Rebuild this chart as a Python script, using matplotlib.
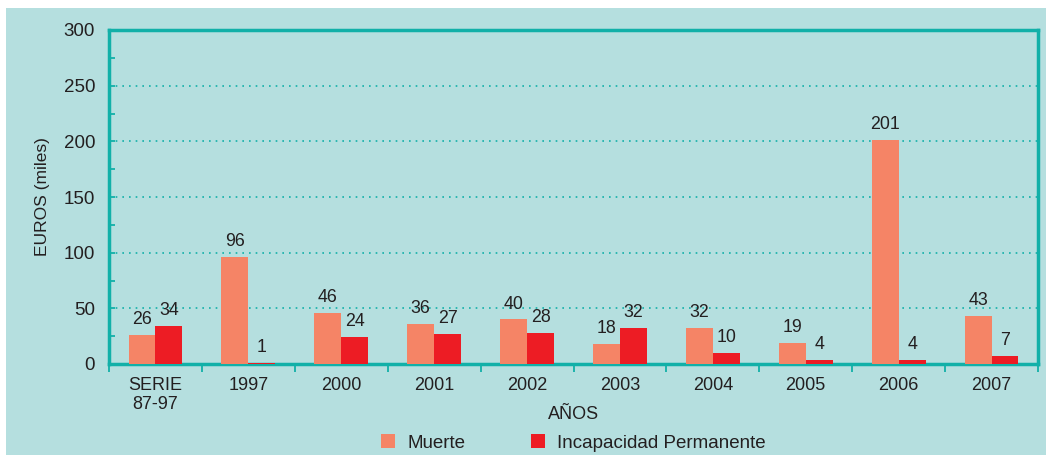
import numpy as np
import matplotlib.pyplot as plt
from matplotlib.ticker import MultipleLocator

plt.rcParams['font.family'] = ['Liberation Sans', 'DejaVu Sans']

categorias = ["SERIE\n87-97", "1997", "2000", "2001", "2002", "2003", "2004", "2005", "2006", "2007"]
muerte = [26, 96, 46, 36, 40, 18, 32, 19, 201, 43]
incapacidad = [34, 1, 24, 27, 28, 32, 10, 4, 4, 7]

fondo = "#b5dfdf"
teal = "#12b0a8"
texto = "#231f20"

fig = plt.figure(figsize=(10.46, 4.55), dpi=100)
fig.patch.set_facecolor("white")
# panel de fondo
fig.patches.append(plt.Rectangle((6 / 1046, 0), 1, 1 - 8 / 455, transform=fig.transFigure,
                                 facecolor=fondo, edgecolor="none", zorder=-10))

ax = fig.add_axes([109 / 1046, 1 - 364 / 455, 929 / 1046, 334 / 455])
ax.set_facecolor(fondo)

x = np.arange(len(categorias))
w = 0.29
b1 = ax.bar(x - w / 2, muerte, w, color="#f58466", label="Muerte", zorder=3)
b2 = ax.bar(x + w / 2, incapacidad, w, color="#ed1c24", label="Incapacidad Permanente", zorder=3)

for barras in (b1, b2):
    for r in barras:
        ax.annotate(f"{int(r.get_height())}", (r.get_x() + r.get_width() / 2, r.get_height()),
                    xytext=(0, 5), textcoords="offset points", ha="center", va="bottom",
                    fontsize=12.8, color=texto)

ax.set_xlim(-0.5, len(categorias) - 0.5)
ax.set_ylim(0, 300)
ax.yaxis.set_major_locator(MultipleLocator(50))
ax.yaxis.set_minor_locator(MultipleLocator(25))
ax.grid(axis="y", which="major", color=teal, linestyle=(0, (1, 3)), linewidth=1.2, zorder=1)

ax.set_xticks(x)
ax.set_xticklabels(categorias, fontsize=13, color=texto, linespacing=1.2)
ax.set_xticks(np.arange(-0.5, len(categorias)), minor=True)
ax.tick_params(axis="x", which="major", length=0, pad=9)
ax.tick_params(axis="x", which="minor", length=6, width=1.3, color=teal, direction="out")
ax.tick_params(axis="y", which="both", direction="in", length=4, width=1.3, color=teal,
               labelsize=13.5, labelcolor=texto, pad=10)

for s in ax.spines.values():
    s.set_color(teal)
    s.set_linewidth(2.5)

ax.set_ylabel("EUROS (miles)", fontsize=12.5, color=texto, labelpad=10)
ax.set_xlabel("AÑOS", fontsize=13, color=texto)
ax.xaxis.set_label_coords(0.5, -0.126)

ax.legend(loc="center", bbox_to_anchor=(0.5, -0.236), ncol=2, frameon=False,
          fontsize=13.5, handlelength=0.75, handleheight=0.75, columnspacing=3.5,
          handletextpad=0.65, labelcolor=texto, borderpad=0)

fig.savefig("out.png", dpi=100)
